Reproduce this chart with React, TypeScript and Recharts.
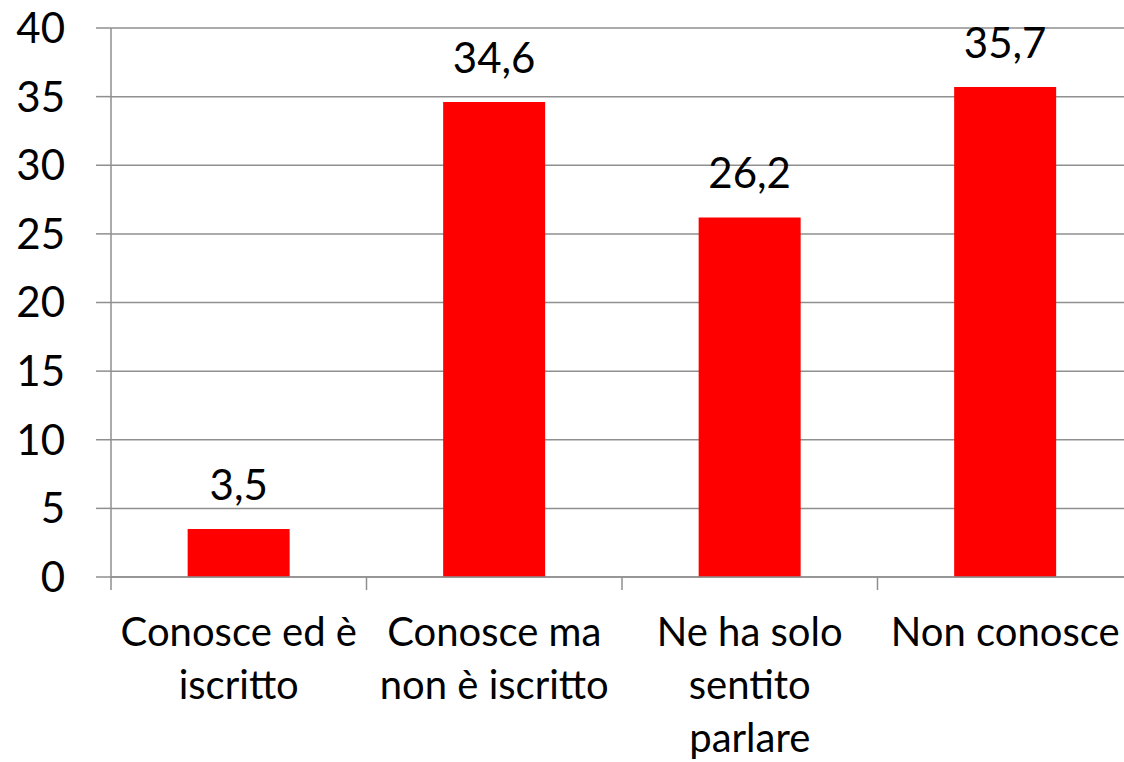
import React from 'react';
import { BarChart, Bar, XAxis, YAxis, CartesianGrid, LabelList } from 'recharts';

const categories = ['Conosce ed è\niscritto', 'Conosce ma\nnon è iscritto', 'Ne ha solo\nsentito\nparlare', 'Non conosce'];
const percentages = [3.5, 34.6, 26.2, 35.7];
const yTicks = [0, 5, 10, 15, 20, 25, 30, 35, 40];

const chartData = categories.map((name, i) => ({ name, value: percentages[i] }));

const WIDTH = 1140;
const HEIGHT = 762;
const LEFT = 111;
const RIGHT_MARGIN = 7;
const BAND = (WIDTH - RIGHT_MARGIN - LEFT) / categories.length;
const FONT = 'Lato, "Open Sans", sans-serif';

const CategoryTick = (props: any) => {
  const { x, y, payload, index } = props;
  const lines = String(payload.value).split('\n');
  return (
    <g>
      <line x1={x - BAND / 2} x2={x - BAND / 2} y1={y} y2={y + 13} stroke="#8f8f8f" strokeWidth={1.5} />
      {index === categories.length - 1 && (
        <line x1={x + BAND / 2} x2={x + BAND / 2} y1={y} y2={y + 13} stroke="#8f8f8f" strokeWidth={1.5} />
      )}
      <text x={x} y={y + 69} textAnchor="middle" fontSize={40} fill="#000" fontFamily={FONT}>
        {lines.map((line, i) => (
          <tspan key={i} x={x} dy={i === 0 ? 0 : 53}>{line}</tspan>
        ))}
      </text>
    </g>
  );
};

const App: React.FC = () => {
  return (
    <div style={{ position: 'absolute', left: 0, top: 0, width: 1124, height: HEIGHT, overflow: 'hidden', background: '#fff' }}>
      <BarChart
        width={WIDTH}
        height={HEIGHT}
        data={chartData}
        margin={{ top: 28, right: RIGHT_MARGIN, bottom: 0, left: 0 }}
        barCategoryGap="30%"
      >
        <CartesianGrid vertical={false} stroke="#8f8f8f" strokeWidth={1.5} />
        <XAxis
          dataKey="name"
          interval={0}
          height={185}
          tickLine={false}
          tickSize={0}
          tickMargin={0}
          axisLine={{ stroke: '#8f8f8f', strokeWidth: 1.5 }}
          tick={<CategoryTick />}
        />
        <YAxis
          width={LEFT}
          domain={[0, 40]}
          ticks={yTicks}
          interval={0}
          tickSize={15}
          tickMargin={31}
          tickLine={{ stroke: '#8f8f8f', strokeWidth: 1.5 }}
          axisLine={{ stroke: '#8f8f8f', strokeWidth: 1.5 }}
          tick={{ fontSize: 42, fill: '#000', fontFamily: FONT }}
        />
        <Bar dataKey="value" fill="#ff0000" isAnimationActive={false}>
          <LabelList
            dataKey="value"
            position="top"
            offset={29}
            fontSize={42}
            fill="#000"
            fontFamily={FONT}
            formatter={(v: any) => Number(v).toFixed(1).replace('.', ',')}
          />
        </Bar>
      </BarChart>
    </div>
  );
};

export default App;
